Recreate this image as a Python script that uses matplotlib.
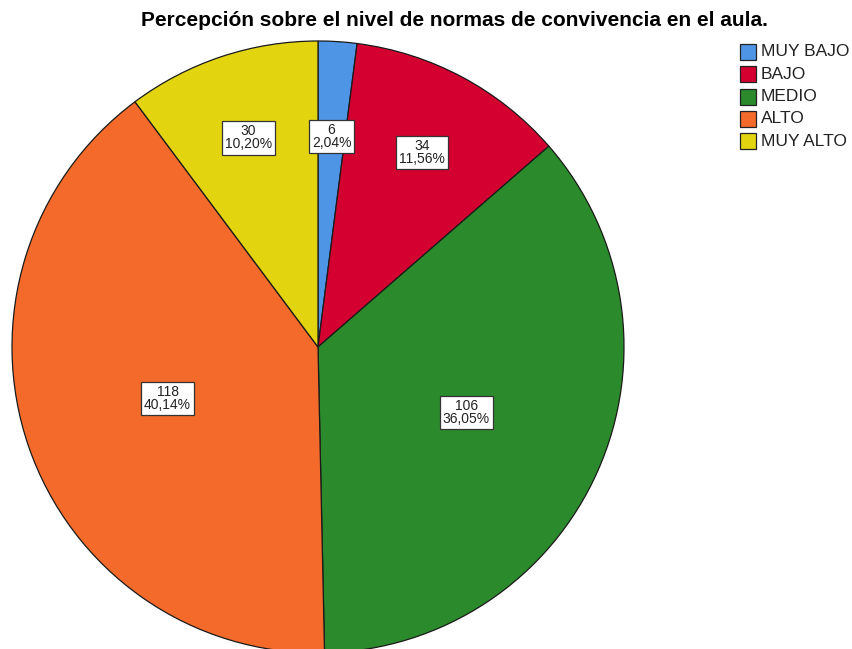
import numpy as np
import matplotlib
matplotlib.use('Agg')
import matplotlib.pyplot as plt
from matplotlib.patches import Rectangle

plt.rcParams['font.family'] = ['Liberation Sans', 'DejaVu Sans']

categories = ['MUY BAJO', 'BAJO', 'MEDIO', 'ALTO', 'MUY ALTO']
counts = [6, 34, 106, 118, 30]
pct_labels = ['2,04%', '11,56%', '36,05%', '40,14%', '10,20%']
colors = ['#4F95E6', '#D40030', '#2B8A2B', '#F36A2A', '#E2D50F']

# radial position of each count box (fraction of radius)
label_r = [0.69, 0.72, 0.53, 0.52, 0.72]

fig = plt.figure(figsize=(8.52, 6.49), dpi=100)
ax = fig.add_axes([12 / 852, -4 / 649, 612 / 852, 612 / 649])
wedges, _ = ax.pie(counts, colors=colors, startangle=90, counterclock=False,
                   radius=1.0,
                   wedgeprops=dict(edgecolor='#1a1a1a', linewidth=0.9))
for w in wedges:
    w.set_clip_on(False)
ax.set_xlim(-1, 1)
ax.set_ylim(-1, 1)
ax.set_aspect('equal')
ax.axis('off')

for w, n, p, r in zip(wedges, counts, pct_labels, label_r):
    ang = np.deg2rad((w.theta1 + w.theta2) / 2)
    ax.text(r * np.cos(ang), r * np.sin(ang), f'{n}\n{p}', ha='center',
            va='center', fontsize=10, linespacing=0.92, color='#222222',
            bbox=dict(boxstyle='square,pad=0.22', facecolor='white',
                      edgecolor='#333333', linewidth=0.9))

fig.text(454 / 852, 1 - 21 / 649,
         'Percepción sobre el nivel de normas de convivencia en el aula.',
         ha='center', va='center', fontsize=15, fontweight='bold')

# legend
for i, (cat, col) in enumerate(zip(categories, colors)):
    y = 52 + i * 22.3
    fig.patches.append(Rectangle((740 / 852, 1 - (y + 8) / 649), 16 / 852, 16 / 649,
                                 transform=fig.transFigure, facecolor=col,
                                 edgecolor='#222222', linewidth=0.9))
    fig.text(761 / 852, 1 - y / 649, cat, ha='left', va='center',
             fontsize=12.5, color='#222222')

fig.savefig('out.png', dpi=100)
